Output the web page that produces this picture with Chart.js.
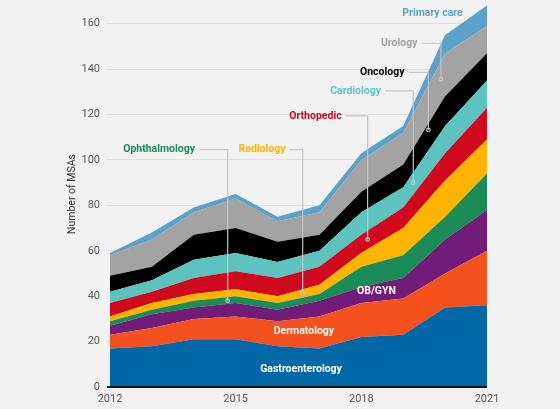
<!DOCTYPE html>
<html>
<head>
<meta charset="utf-8">
<script src="https://cdn.jsdelivr.net/npm/chart.js@4"></script>
<style>
  html, body { margin: 0; padding: 0; background: #f2f2f2; }
  #wrap { width: 560px; height: 409px; }
</style>
</head>
<body>
<div id="wrap"><canvas id="c" width="560" height="409"></canvas></div>
<script>
// ---- data ----
const years = [2012, 2013, 2014, 2015, 2016, 2017, 2018, 2019, 2020, 2021];
const seriesNames = ['Gastroenterology', 'Dermatology', 'OB/GYN', 'Ophthalmology', 'Radiology',
                     'Orthopedic', 'Cardiology', 'Oncology', 'Urology', 'Primary care'];
const gastroenterology = [17, 18, 21, 21, 18, 17, 22, 23, 35, 36];
const dermatology      = [6, 8, 9, 10, 11, 14, 15, 16, 15, 24];
const obgyn            = [4, 6, 5, 6, 5, 7, 7, 9, 15, 18];
const ophthalmology    = [2, 2, 3, 3, 3, 3, 9, 10, 10, 16];
const radiology        = [2, 3, 3, 3, 3, 4, 6, 12, 16, 15];
const orthopedic       = [6, 5, 7, 8, 8, 8, 8, 9, 12, 14];
const cardiology       = [5, 5, 8, 8, 7, 7, 10, 9, 12, 12];
const oncology         = [7, 6, 11, 11, 9, 7, 9, 10, 13, 12];
const urology          = [9, 12, 10, 13, 9, 10, 14, 14, 19, 12];
const primaryCare      = [1, 3, 2, 2, 2, 3, 3, 3, 8, 9];
const yTicks = [0, 20, 40, 60, 80, 100, 120, 140, 160];
const xTicks = [2012, 2015, 2018, 2021];

// ---- styles ----
const seriesValues = [gastroenterology, dermatology, obgyn, ophthalmology, radiology,
                      orthopedic, cardiology, oncology, urology, primaryCare];
const colors = ['#0068a6', '#f5511f', '#711c79', '#198c58', '#ffb400',
                '#d0091e', '#5cc3bf', '#000000', '#a3a3a3', '#5ba1ca'];
const labelColors = ['#ffffff', '#ffffff', '#ffffff', '#1a8c5a', '#ffb400',
                     '#d0091e', '#5cc3bf', '#000000', '#a3a3a3', '#5ba3cf'];
// callout placement in data coordinates (year, value); elbow/target optional
const callouts = [
  { s: 0, x: 2016.56, y: 7.9, align: 'center' },
  { s: 1, x: 2016.63, y: 24.7, align: 'center' },
  { s: 2, x: 2018.36, y: 42.0, align: 'center' },
  { s: 3, x: 2014.03, y: 104.5, align: 'right', ex: 2014.81, ty: 38.0 },
  { s: 4, x: 2016.19, y: 104.5, align: 'right', ex: 2016.60, ty: 41.3 },
  { s: 5, x: 2017.53, y: 119.4, align: 'right', ex: 2018.15, ty: 65.0 },
  { s: 6, x: 2018.47, y: 130.4, align: 'right', ex: 2019.24, ty: 90.0 },
  { s: 7, x: 2019.03, y: 138.6, align: 'right', ex: 2019.60, ty: 113.2 },
  { s: 8, x: 2019.34, y: 151.4, align: 'right', ex: 2019.90, ty: 135.6 },
  { s: 9, x: 2019.70, y: 164.6, align: 'center' }
];

const labelFont = 'bold 10.5px Roboto, "DejaVu Sans", sans-serif';

const calloutPlugin = {
  id: 'callouts',
  afterDatasetsDraw(chart) {
    const ctx = chart.ctx;
    const xs = chart.scales.x, ys = chart.scales.y;
    const area = chart.chartArea;
    ctx.save();
    // baseline
    ctx.strokeStyle = '#111';
    ctx.lineWidth = 2;
    ctx.beginPath();
    ctx.moveTo(area.left - 3, ys.getPixelForValue(0));
    ctx.lineTo(area.right, ys.getPixelForValue(0));
    ctx.stroke();

    ctx.font = labelFont;
    ctx.textBaseline = 'middle';
    callouts.forEach(c => {
      const px = xs.getPixelForValue(c.x);
      const py = ys.getPixelForValue(c.y);
      if (c.ex !== undefined) {
        const ex = xs.getPixelForValue(c.ex);
        const ty = ys.getPixelForValue(c.ty);
        ctx.strokeStyle = '#c4c4c4';
        ctx.lineWidth = 1.2;
        ctx.beginPath();
        ctx.moveTo(px + 4, py);
        ctx.lineTo(ex, py);
        ctx.lineTo(ex, ty);
        ctx.stroke();
        ctx.beginPath();
        ctx.arc(ex, ty, 1.8, 0, Math.PI * 2);
        ctx.stroke();
      }
      ctx.fillStyle = labelColors[c.s];
      ctx.textAlign = c.align;
      ctx.fillText(seriesNames[c.s], px, py);
    });
    ctx.restore();
  }
};

const datasets = seriesNames.map((name, i) => ({
  label: name,
  data: years.map((yr, j) => ({ x: yr, y: seriesValues[i][j] })),
  backgroundColor: colors[i],
  borderColor: colors[i],
  borderWidth: 0,
  pointRadius: 0,
  tension: 0,
  fill: i === 0 ? 'origin' : '-1'
}));

new Chart(document.getElementById('c'), {
  type: 'line',
  data: { datasets },
  options: {
    responsive: false,
    animation: false,
    layout: { padding: { left: 60, right: 73, top: 1, bottom: 0 } },
    plugins: { legend: { display: false }, tooltip: { enabled: false } },
    scales: {
      x: {
        type: 'linear',
        min: 2012, max: 2021,
        afterBuildTicks: s => { s.ticks = xTicks.map(v => ({ value: v })); },
        afterFit: s => { s.height = 22; s.paddingLeft = 0; s.paddingRight = 0; },
        grid: { display: false, drawTicks: false },
        border: { display: false },
        ticks: {
          padding: 6,
          color: '#5a5a5a',
          font: { family: 'Roboto', size: 11 },
          callback: v => String(v)
        }
      },
      y: {
        stacked: true,
        min: 0, max: 170,
        afterBuildTicks: s => { s.ticks = yTicks.map(v => ({ value: v })); },
        afterFit: s => { s.width = 50; s.paddingTop = 0; s.paddingBottom = 0; },
        grid: { color: '#e1e1e1', lineWidth: 1, tickLength: 3, drawTicks: true, tickColor: '#e1e1e1' },
        border: { display: false },
        ticks: {
          padding: 7,
          color: '#5a5a5a',
          font: { family: 'Roboto', size: 11 },
          callback: v => String(v)
        },
        title: {
          display: true,
          text: 'Number of MSAs',
          color: '#333',
          font: { family: 'Roboto', size: 10.5 },
          padding: { top: 6, bottom: 0 }
        }
      }
    }
  },
  plugins: [calloutPlugin]
});
</script>
</body>
</html>
